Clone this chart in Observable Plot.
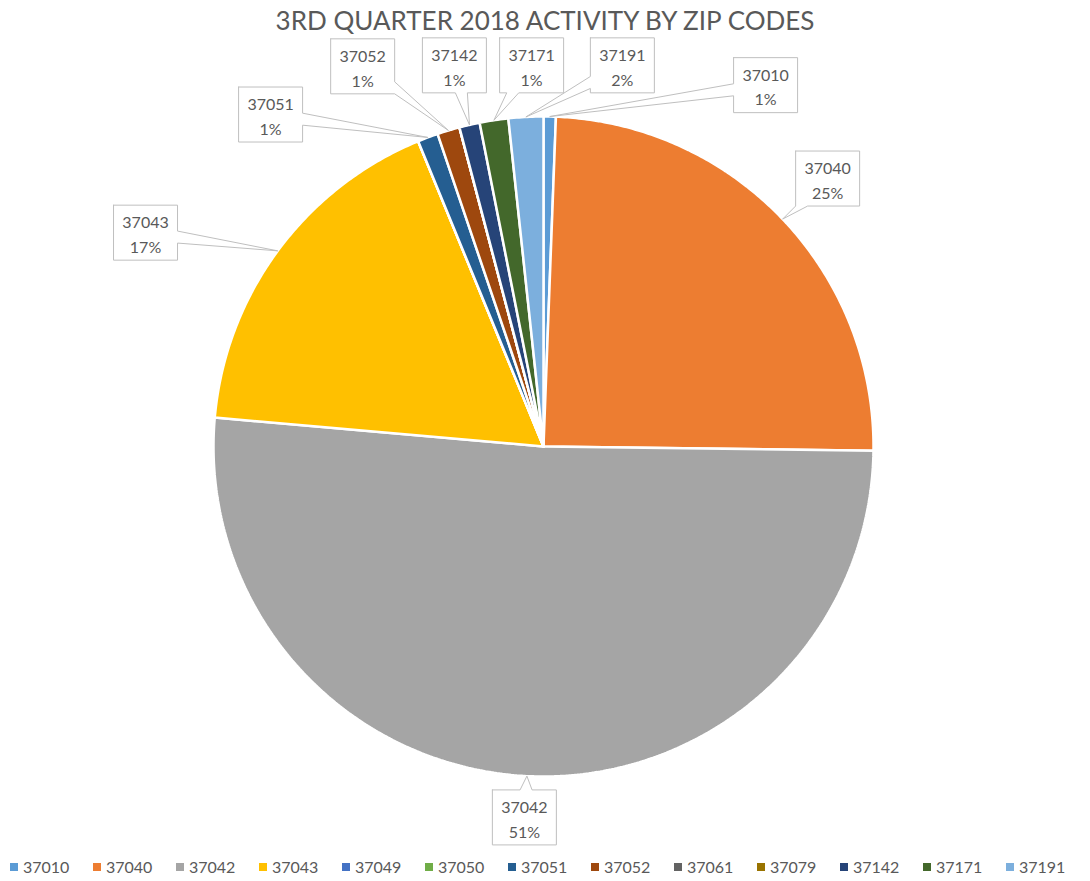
<!DOCTYPE html>
<html><head><meta charset="utf-8">
<script src="https://cdn.jsdelivr.net/npm/d3@7"></script>
<script src="https://cdn.jsdelivr.net/npm/@observablehq/plot@0.6"></script>
<style>
html,body{margin:0;padding:0;background:#fff;}
body{width:1090px;height:881px;overflow:hidden;font-family:Lato,"Open Sans",sans-serif;}
#title{height:40px;line-height:40px;text-align:center;color:#595959;white-space:nowrap;font-size:25px;}
#title span{display:inline-block;}
#chart svg{display:block;}
#legend{height:31px;padding-left:10px;box-sizing:border-box;}
#legend [class$="-swatches"]{min-height:31px !important;display:flex;align-items:center;flex-wrap:nowrap !important;}
#legend [class$="-swatch"]{width:83px;margin-right:0 !important;display:inline-flex;align-items:center;font-size:16px;color:#595959;font-family:Lato,sans-serif;}
#legend svg{margin-right:5px !important;}
</style></head><body>
<div id="title"><span id="tt">3RD QUARTER 2018 ACTIVITY BY ZIP CODES</span></div>
<div id="chart"></div>
<div id="legend"></div>
<script>
// ---- data ----
const zips   = ["37010","37040","37042","37043","37049","37050","37051","37052","37061","37079","37142","37171","37191"];
const shares = [0.6, 24.6, 51.2, 17.4, 0, 0, 1.0, 1.1, 0, 0, 1.0, 1.4, 1.7];
const colors = ["#5B9BD5","#ED7D31","#A5A5A5","#FFC000","#4472C4","#70AD47","#255E91","#9E480E","#636363","#997300","#264478","#43682B","#7CAFDD"];

// ---- label layout (box centres, in pie-radius units) ----
const labelZips = ["37010","37040","37042","37043","37051","37052","37142","37171","37191"];
const labelX    = [0.673, 0.861, -0.058, -1.206, -0.827, -0.548, -0.270, -0.036, 0.239];
const labelY    = [1.095, 0.812, -1.124, 0.648, 1.006, 1.152, 1.155, 1.155, 1.155];

const R = 330;               // pixels per unit
const boxW = 64 / R, boxH = 55 / R, baseHalf = 6 / R;

// fit title width
(function(){
  const t = document.getElementById("tt");
  const w = t.getBoundingClientRect().width;
  const fs = 25 * 539 / w;
  document.getElementById("title").style.fontSize = fs + "px";
})();

const data = zips.map((z, i) => ({zip: z, share: shares[i], color: colors[i]}));
const total = d3.sum(shares);
const arcs = d3.pie().sort(null).value(d => d.share)(data);

const pt = (a, r) => ({x: r * Math.sin(a), y: r * Math.cos(a)});

// slice polygons
const slicePts = [];
arcs.forEach(a => {
  const z = a.data.zip;
  slicePts.push({zip: z, x: 0, y: 0});
  const n = Math.max(1, Math.ceil((a.endAngle - a.startAngle) / (Math.PI / 360)));
  for (let k = 0; k <= n; k++) {
    const ang = a.startAngle + (a.endAngle - a.startAngle) * k / n;
    slicePts.push({zip: z, ...pt(ang, 1)});
  }
  slicePts.push({zip: z, x: 0, y: 0});
});

// labels & callouts
const labels = labelZips.map((z, i) => {
  const a = arcs.find(d => d.data.zip === z);
  const mid = (a.startAngle + a.endAngle) / 2;
  const tip = pt(mid, 1);
  const pct = Math.round(a.data.share * 100 / total);
  return {zip: z, x: labelX[i], y: labelY[i], tip, pct};
});

function callout(L) {
  const cx = L.x, cy = L.y, tx = L.tip.x, ty = L.tip.y;
  const hw = boxW / 2, hh = boxH / 2;
  const l = cx - hw, r = cx + hw, t = cy + hh, b = cy - hh;
  const dx = tx - cx, dy = ty - cy;
  const s = Math.min(hw / Math.abs(dx || 1e-9), hh / Math.abs(dy || 1e-9));
  const ex = cx + dx * s, ey = cy + dy * s;
  const cl = (v, lo, hi) => Math.max(lo + baseHalf, Math.min(hi - baseHalf, v));
  const side = Math.abs(dx) / hw > Math.abs(dy) / hh ? (dx > 0 ? "right" : "left") : (dy > 0 ? "top" : "bottom");
  const P = [];
  const add = (x, y) => P.push({zip: L.zip, x, y});
  add(l, t);
  if (side === "top") { const e = cl(ex, l, r); add(e - baseHalf, t); add(tx, ty); add(e + baseHalf, t); }
  add(r, t);
  if (side === "right") { const e = cl(ey, b, t); add(r, e + baseHalf); add(tx, ty); add(r, e - baseHalf); }
  add(r, b);
  if (side === "bottom") { const e = cl(ex, l, r); add(e + baseHalf, b); add(tx, ty); add(e - baseHalf, b); }
  add(l, b);
  if (side === "left") { const e = cl(ey, b, t); add(l, e - baseHalf); add(tx, ty); add(l, e + baseHalf); }
  add(l, t);
  return P;
}
const calloutPts = labels.flatMap(callout);

const colorScale = {type: "ordinal", domain: zips, range: colors};

const plot = Plot.plot({
  width: 1090,
  height: 810,
  marginLeft: 213,
  marginRight: 217,
  marginTop: 76,
  marginBottom: 74,
  x: {domain: [-1, 1], axis: null},
  y: {domain: [-1, 1], axis: null},
  color: colorScale,
  style: {background: "#fff", overflow: "visible"},
  marks: [
    Plot.line(slicePts, {x: "x", y: "y", z: "zip", fill: "zip", stroke: "white", strokeWidth: 2.5, strokeLinejoin: "miter", curve: "linear"}),
    Plot.line(calloutPts, {x: "x", y: "y", z: "zip", fill: "white", stroke: "#BFBFBF", strokeWidth: 1, strokeLinejoin: "miter", curve: "linear"}),
    Plot.text(labels, {x: "x", y: "y", text: d => d.zip + "\n" + d.pct + "%", fontSize: 16, lineHeight: 1.55, fill: "#595959", fontFamily: "Lato, sans-serif"})
  ]
});
document.getElementById("chart").appendChild(plot);

const leg = Plot.legend({color: colorScale, legend: "swatches", swatchSize: 8, className: "lg"});
document.getElementById("legend").appendChild(leg);
</script>
</body></html>
